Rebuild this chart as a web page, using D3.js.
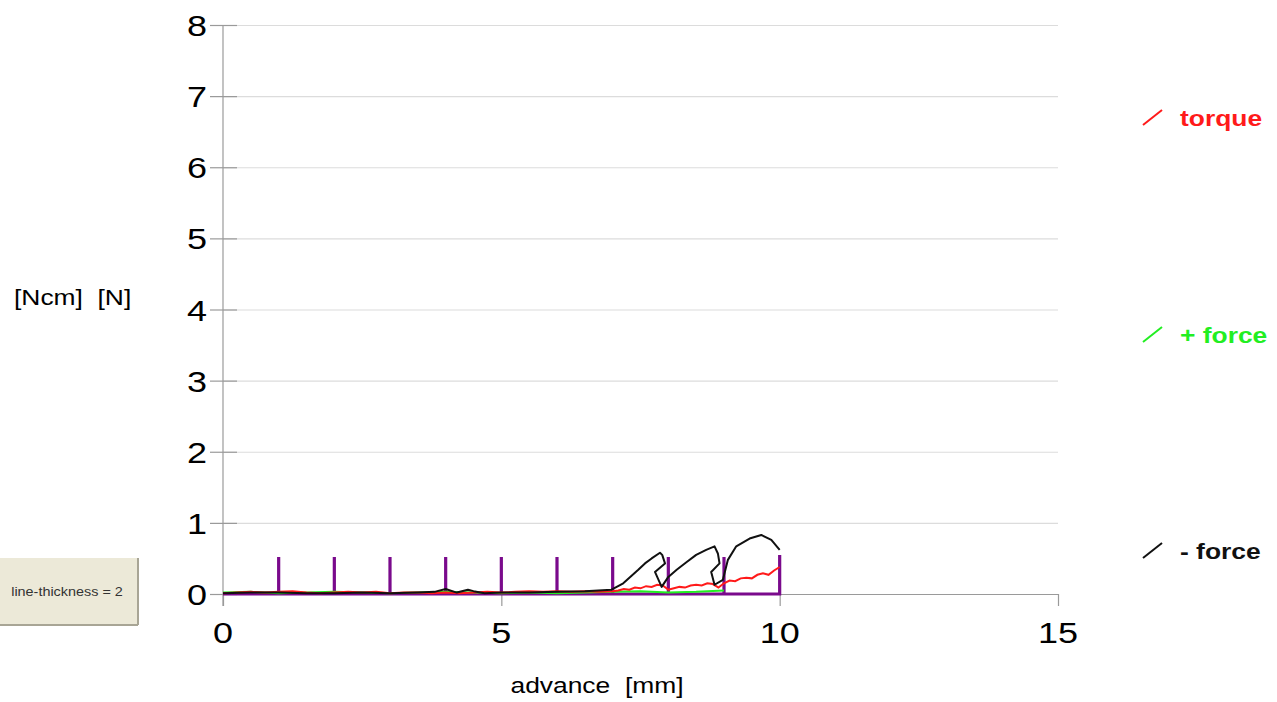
<!DOCTYPE html>
<html><head><meta charset="utf-8">
<script src="https://cdn.jsdelivr.net/npm/d3@7"></script>
<style>body{margin:0;background:#fff}svg{display:block}text{font-family:"Liberation Sans",Arial,sans-serif;white-space:pre}</style>
</head><body><svg id="c" width="1277" height="702"></svg>
<script>
// ---- data ----
const xTicks = [0, 5, 10, 15];
const yTicks = [0, 1, 2, 3, 4, 5, 6, 7, 8];
const xLabel = "advance  [mm]";
const yLabel = "[Ncm]  [N]";
const legendNames = ["torque", "+ force", "- force"];
const legendColors = ["#ff1a1a", "#22ee22", "#111111"];
const buttonText = "line-thickness = 2";

const torqueX = [0,0.25,0.5,0.75,1,1.25,1.5,1.75,2,2.25,2.5,2.75,3,3.25,3.5,3.75,4,4.25,4.5,4.75,5,5.25,5.5,5.75,6,6.25,6.5,6.75,7,
  7.1,7.2,7.3,7.4,7.5,7.6,7.7,7.8,7.9,8.0,8.1,8.2,8.3,8.4,8.5,8.6,8.7,8.8,8.9,9.0,9.1,9.2,9.3,9.4,9.5,9.6,9.7,9.8,9.9,10.0];
const torqueY = [0.01,0.02,0.03,0.02,0.03,0.04,0.02,0.01,0.02,0.03,0.02,0.03,0.01,0.02,0.02,0.01,0.02,0.01,0.02,0.03,0.02,0.03,0.04,0.03,0.04,0.03,0.04,0.03,0.04,
  0.05,0.07,0.06,0.09,0.08,0.11,0.10,0.13,0.12,0.06,0.08,0.10,0.09,0.12,0.13,0.12,0.15,0.14,0.09,0.15,0.19,0.18,0.22,0.23,0.22,0.27,0.29,0.27,0.33,0.38];

const plusX = [0,0.5,1,1.5,2,2.5,3,3.5,4,4.5,5,5.5,6,6.5,7,7.5,8,8.5,9];
const plusY = [0.02,0.03,0.01,0.02,0.03,0.02,0.01,0.02,0.03,0.02,0.01,0.02,0.01,0.02,0.03,0.04,0.02,0.03,0.05];

const minusX = [0,0.5,1,1.5,2,2.5,3,3.5,3.8,4.0,4.2,4.4,4.5,4.7,5,5.5,6,6.5,6.98,
  7.19,7.46,7.58,7.70,7.85,7.89,7.94,7.76,7.88,8.0,8.15,8.33,8.50,8.68,8.83,8.89,8.92,8.77,8.83,8.98,9.07,9.22,9.46,9.67,9.85,10.0];
const minusY = [0.01,0.02,0.02,0.01,0.01,0.02,0.01,0.02,0.03,0.07,0.02,0.06,0.04,0.01,0.02,0.02,0.03,0.04,0.06,
  0.15,0.34,0.43,0.50,0.58,0.55,0.43,0.31,0.10,0.24,0.34,0.45,0.55,0.62,0.67,0.57,0.43,0.31,0.13,0.20,0.48,0.67,0.78,0.83,0.76,0.62];

const pulseX = [1,2,3,4,5,6,7,8,9,10];
const pulseH = [0.52,0.52,0.52,0.52,0.52,0.52,0.52,0.52,0.52,0.55];

// ---- chart ----
const svg = d3.select("#c");
const x = d3.scaleLinear().domain([0, 15]).range([223, 1058]);
const y = d3.scaleLinear().domain([0, 8]).range([594, 25]);
const SX = 1.2;
function txt(g, s, px, py, size, anchor, color, weight) {
  return g.append("text").attr("transform", `translate(${px},${py}) scale(${SX},1)`)
    .attr("text-anchor", anchor).attr("font-size", size).attr("fill", color)
    .attr("font-weight", weight || "normal").attr("xml:space", "preserve").text(s);
}

// gridlines
svg.append("g").attr("transform", `translate(${x(0)},0)`)
  .call(d3.axisRight(y).tickValues(yTicks.slice(1)).tickSize(x(15) - x(0)).tickFormat(""))
  .call(g => g.select(".domain").remove())
  .call(g => g.selectAll("line").attr("stroke", "#dcdcdc").attr("stroke-width", 1.2));

// y ticks crossing the axis
svg.append("g").attr("transform", `translate(${x(0) + 14},0)`)
  .call(d3.axisLeft(y).tickValues(yTicks).tickSize(27).tickFormat(""))
  .call(g => g.select(".domain").remove())
  .call(g => g.selectAll("line").attr("stroke", "#9a9a9a").attr("stroke-width", 1.2));
// y axis line
svg.append("line").attr("x1", x(0)).attr("x2", x(0)).attr("y1", y(8)).attr("y2", y(0) + 12)
  .attr("stroke", "#9a9a9a").attr("stroke-width", 1.2);

// x axis
svg.append("g").attr("transform", `translate(0,${y(0)})`)
  .call(d3.axisBottom(x).tickValues(xTicks).tickSize(12).tickFormat("").tickSizeOuter(0))
  .call(g => g.select(".domain").attr("stroke", "#9a9a9a").attr("stroke-width", 1.2))
  .call(g => g.selectAll("line").attr("stroke", "#9a9a9a").attr("stroke-width", 1.2));

// tick labels
const gl = svg.append("g");
yTicks.forEach(v => txt(gl, String(v), 207, y(v) + 11, 30, "end", "#000"));
xTicks.forEach(v => txt(gl, String(v), x(v), 643, 30, "middle", "#000"));

// axis titles
txt(svg, xLabel, 597, 693, 22, "middle", "#000");
txt(svg, yLabel, 14, 305, 22, "start", "#000");

// series
const line = d3.line().x(d => x(d[0])).y(d => y(d[1]));
const pulsePts = [[0, 0]];
pulseX.forEach((px, i) => { pulsePts.push([px, 0], [px, pulseH[i]], [px, 0]); });
svg.append("path").attr("d", line(pulsePts)).attr("fill", "none")
  .attr("stroke", "#7a0a8c").attr("stroke-width", 3.2).attr("stroke-linejoin", "miter");

svg.append("path").attr("d", line(plusX.map((v, i) => [v, plusY[i]]))).attr("fill", "none")
  .attr("stroke", legendColors[1]).attr("stroke-width", 2);
svg.append("path").attr("d", line(torqueX.map((v, i) => [v, torqueY[i]]))).attr("fill", "none")
  .attr("stroke", legendColors[0]).attr("stroke-width", 2);
svg.append("path").attr("d", line(minusX.map((v, i) => [v, minusY[i]]))).attr("fill", "none")
  .attr("stroke", legendColors[2]).attr("stroke-width", 2).attr("stroke-linejoin", "round");

// legend
const legY = [126, 343, 559];
legendNames.forEach((n, i) => {
  svg.append("line").attr("x1", 1143).attr("y1", legY[i] - 1).attr("x2", 1162).attr("y2", legY[i] - 16)
    .attr("stroke", legendColors[i]).attr("stroke-width", 2);
  txt(svg, n, 1180, legY[i], 22, "start", legendColors[i], "bold");
});

// button
const b = svg.append("g");
b.append("rect").attr("x", 0).attr("y", 558).attr("width", 138).attr("height", 67).attr("fill", "#ece9d8");
b.append("line").attr("x1", 138).attr("x2", 138).attr("y1", 558).attr("y2", 625).attr("stroke", "#a8a595").attr("stroke-width", 2);
b.append("line").attr("x1", 0).attr("x2", 138).attr("y1", 625).attr("y2", 625).attr("stroke", "#a8a595").attr("stroke-width", 2);
txt(b, buttonText, 67, 596, 12, "middle", "#333");
</script></body></html>
